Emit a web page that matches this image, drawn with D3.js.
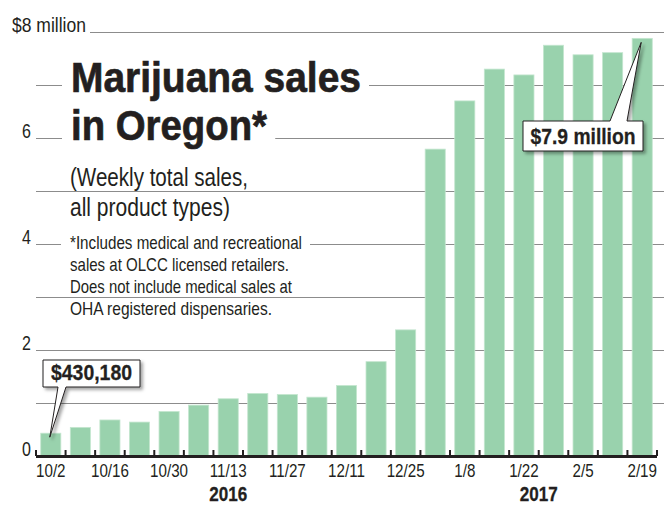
<!DOCTYPE html>
<html>
<head>
<meta charset="utf-8">
<script src="https://cdn.jsdelivr.net/npm/d3@7"></script>
<style>
  html, body { margin: 0; padding: 0; background: #fff; }
  svg { display: block; }
  text { font-family: "Liberation Sans", Arial, Helvetica, sans-serif; fill: #231f20; }
</style>
</head>
<body>
<svg id="chart" width="664" height="507"></svg>
<script>
var WIDTH = 664
  , HEIGHT = 507
  , NARROW = 0.82

// weekly totals, in millions of dollars
var weeks = ['10/2', '10/9', '10/16', '10/23', '10/30', '11/6', '11/13', '11/20',
  '11/27', '12/4', '12/11', '12/18', '12/25', '1/1', '1/8', '1/15', '1/22', '1/29',
  '2/5', '2/12', '2/19']
var sales = [0.43018, 0.54, 0.68, 0.64, 0.84, 0.96, 1.08, 1.18, 1.16, 1.11, 1.33,
  1.78, 2.38, 5.79, 6.70, 7.30, 7.19, 7.75, 7.57, 7.61, 7.88]
var yTicks = [0, 1, 2, 3, 4, 5, 6, 7, 8]
var yLabels = ['0', '', '2', '', '4', '', '6', '', '$8 million']
var xLabels = ['10/2', '10/16', '10/30', '11/13', '11/27', '12/11', '12/25', '1/8',
  '1/22', '2/5', '2/19']
var years = ['2016', '2017']
var yearWeeks = ['11/13', '1/29']

var titleLines = ['Marijuana sales', 'in Oregon*']
var subtitleLines = ['(Weekly total sales,', 'all product types)']
var noteLines = ['*Includes medical and recreational', 'sales at OLCC licensed retailers.',
  'Does not include medical sales at', 'OHA registered dispensaries.']
var callouts = [
    {week: '10/2', text: '$430,180'}
  , {week: '2/19', text: '$7.9 million'}
]

var svg = d3.select('#chart')

var x = d3.scaleBand()
  .domain(weeks)
  .range([36, 657])
  .paddingInner(0.32)
  .paddingOuter(0.16)

var y = d3.scaleLinear()
  .domain([0, 8])
  .range([456, 32])

var defs = svg.append('defs')
var shadow = defs.append('filter')
  .attr('id', 'shadow')
  .attr('x', '-20%').attr('y', '-20%')
  .attr('width', '150%').attr('height', '160%')
shadow.append('feDropShadow')
  .attr('dx', 2.5).attr('dy', 2.5)
  .attr('stdDeviation', 1.6)
  .attr('flood-color', '#000')
  .attr('flood-opacity', 0.35)

// gridlines
svg.append('g')
  .attr('class', 'grid')
  .selectAll('line')
  .data(yTicks.filter(function(d) { return d > 0 }))
  .enter()
    .append('line')
    .attr('x1', function(d) { return d === 8 ? 90 : 36 })
    .attr('x2', WIDTH)
    .attr('y1', function(d) { return Math.round(y(d)) + 0.5 })
    .attr('y2', function(d) { return Math.round(y(d)) + 0.5 })
    .attr('stroke', '#8c8c8c')
    .attr('stroke-width', 1.2)

// y labels
svg.append('g')
  .selectAll('text')
  .data(yTicks.filter(function(d, i) { return yLabels[i] }))
  .enter()
    .append('text')
    .attr('x', function(d) { return d === 8 ? 12 : 31 })
    .attr('y', function(d) { return y(d) })
    .attr('text-anchor', function(d) { return d === 8 ? 'start' : 'end' })
    .attr('font-size', '19.5px')
    .text(function(d) { return yLabels[yTicks.indexOf(d)] })
    .each(function(d) {
      if(d === 8) fitWidth(d3.select(this), 74)
      else condense(d3.select(this))
    })

// text blocks with white backing over the grid
textBlock(titleLines, 71, [92, 140], '43px', 'bold', [290, 196], 0.7)
textBlock(subtitleLines, 70, [186, 216], '25px', 'normal', [178, 160], 0)
textBlock(noteLines, 70, [249, 271, 293, 315], '19px', 'normal', [232, 219, 222, 202], 0)

// bars
svg.append('g')
  .attr('class', 'bars')
  .selectAll('rect')
  .data(sales)
  .enter()
    .append('rect')
    .attr('x', function(d, i) { return x(weeks[i]) })
    .attr('y', function(d) { return y(d) })
    .attr('width', x.bandwidth())
    .attr('height', function(d) { return y(0) - y(d) })
    .attr('fill', '#99d2ad')
    .attr('stroke', '#c4e6cf')
    .attr('stroke-width', 0.8)

// x axis: thick baseline with ticks between the bars
var tickX = weeks.map(function(w) {
  return x(w) - x.step() * x.paddingInner() / 2
}).concat([x.range()[1]])

var axis = svg.append('g').attr('class', 'x-axis')

axis.append('line')
  .attr('x1', 36).attr('x2', 657)
  .attr('y1', y(0) + 0.5).attr('y2', y(0) + 0.5)
  .attr('stroke', '#231f20')
  .attr('stroke-width', 3)

axis.selectAll('.tick')
  .data(tickX)
  .enter()
    .append('line')
    .attr('class', 'tick')
    .attr('x1', function(d) { return d }).attr('x2', function(d) { return d })
    .attr('y1', y(0) - 6).attr('y2', y(0))
    .attr('stroke', '#231f20')
    .attr('stroke-width', 2)

axis.selectAll('.label')
  .data(xLabels)
  .enter()
    .append('text')
    .attr('class', 'label')
    .attr('x', function(d) { return x(d) + x.bandwidth() / 2 })
    .attr('y', 477)
    .attr('text-anchor', 'middle')
    .attr('font-size', '18.5px')
    .text(function(d) { return d })
    .each(function() { condense(d3.select(this)) })

axis.selectAll('.year')
  .data(years)
  .enter()
    .append('text')
    .attr('class', 'year')
    .attr('x', function(d, i) {
      var w = yearWeeks[i]
      return i === 0 ? x(w) + x.bandwidth() / 2 : x(w) - x.step() * x.paddingInner() / 2
    })
    .attr('y', 501)
    .attr('text-anchor', 'middle')
    .attr('font-size', '20px')
    .attr('font-weight', 'bold')
    .attr('stroke', '#231f20')
    .attr('stroke-width', 0.3)
    .text(function(d) { return d })
    .each(function() { fitWidth(d3.select(this), 38) })

// callouts
drawCallout(callouts[0], [43, 360, 140, 387], 'below', [58, 66], 81)
drawCallout(callouts[1], [523, 121, 643, 151], 'above', [610, 627], 105)

function drawCallout(c, box, side, base, textW) {
  var i = weeks.indexOf(c.week)
    , tipX = x(c.week) + x.bandwidth() / 2 - 1
    , tipY = y(sales[i]) + 4
    , x0 = box[0], y0 = box[1], x1 = box[2], y1 = box[3]
    , p = d3.path()

  if(side === 'below') {
    p.moveTo(x0, y0)
    p.lineTo(x1, y0)
    p.lineTo(x1, y1)
    p.lineTo(base[1], y1)
    p.lineTo(tipX, tipY)
    p.lineTo(base[0], y1)
    p.lineTo(x0, y1)
  } else {
    p.moveTo(x0, y0)
    p.lineTo(base[0], y0)
    p.lineTo(tipX, tipY)
    p.lineTo(base[1], y0)
    p.lineTo(x1, y0)
    p.lineTo(x1, y1)
    p.lineTo(x0, y1)
  }
  p.closePath()

  var g = svg.append('g').attr('class', 'callout')

  g.append('path')
    .attr('d', p.toString())
    .attr('fill', '#fff')
    .attr('stroke', '#231f20')
    .attr('stroke-width', 1)
    .attr('stroke-linejoin', 'miter')
    .attr('filter', 'url(#shadow)')

  var t = g.append('text')
    .attr('x', (x0 + x1) / 2)
    .attr('y', y1 - 7)
    .attr('text-anchor', 'middle')
    .attr('font-size', '22.5px')
    .attr('font-weight', 'bold')
    .attr('stroke', '#231f20')
    .attr('stroke-width', 0.3)
    .text(c.text)
  fitWidth(t, textW)
}

function textBlock(lines, left, baselines, size, weight, widths, heavy) {
  var g = svg.append('g')
    , bg = g.append('g')
    , texts = g.append('g')

  lines.forEach(function(line, i) {
    var t = texts.append('text')
      .attr('x', left)
      .attr('y', baselines[i])
      .attr('font-size', size)
      .attr('font-weight', weight)
      .text(line)
    if(heavy) {
      t.attr('stroke', '#231f20').attr('stroke-width', heavy)
    }
    fitWidth(t, widths[i])

    var b = t.node().getBBox()
    bg.append('rect')
      .attr('x', b.x - 9)
      .attr('y', b.y)
      .attr('width', b.width + 17)
      .attr('height', b.height)
      .attr('fill', '#fff')
  })
}

function fitWidth(sel, w) {
  sel
    .attr('textLength', w)
    .attr('lengthAdjust', 'spacingAndGlyphs')
}

function condense(sel) {
  fitWidth(sel, sel.node().getComputedTextLength() * NARROW)
}
</script>
</body>
</html>
